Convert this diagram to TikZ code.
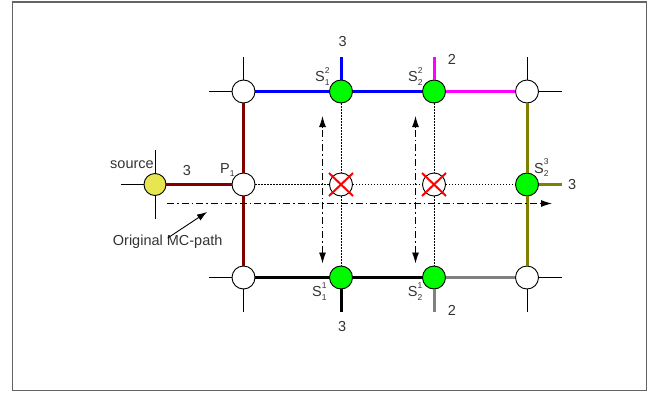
\documentclass[tikz,border=0pt]{standalone}
\usepackage{fontspec}
\setmainfont{Liberation Sans}
\usetikzlibrary{arrows.meta,positioning}

\definecolor{txtgray}{RGB}{51,51,51}
\definecolor{framegray}{RGB}{100,100,100}
\definecolor{srcyellow}{RGB}{230,230,80}
\definecolor{relaygreen}{RGB}{0,250,0}
\definecolor{pathmaroon}{RGB}{128,0,0}
\definecolor{patholive}{RGB}{128,128,0}
\definecolor{pathgray}{RGB}{128,128,128}
\definecolor{pathblue}{RGB}{0,0,255}
\definecolor{pathpink}{RGB}{255,0,255}
\definecolor{xred}{RGB}{255,0,0}

% S with stacked super- and subscript
\newcommand{\idx}[1]{{\fontsize{8.5}{9}\selectfont #1}}
\newcommand{\Snode}[2]{S\rlap{\raisebox{8.4pt}{\idx{#1}}}\raisebox{-3.3pt}{\idx{#2}}}

\begin{document}
\begin{tikzpicture}[x=1pt, y=-1pt,
  font=\fontsize{14.5}{16}\selectfont,
  router/.style={circle, draw, line width=0.9pt, fill=white,
                 minimum size=23pt, inner sep=0},
  relay/.style={router, fill=relaygreen},
  srcnode/.style={router, fill=srcyellow, minimum size=22pt},
  lbl/.style={anchor=base west, inner sep=0, text=txtgray},
  link/.style={line width=3pt},
  stub/.style={line width=0.9pt},
  probe/.style={line width=0.9pt, dash pattern=on 1.5pt off 1.5pt},
  mcpath/.style={line width=0.9pt, dash pattern=on 7pt off 3pt on 1.5pt off 3pt,
                 -{Latex[length=11pt,width=7pt]}},
  xmark/.style={xred, line width=2pt},
  ptr/.style={-{Latex[length=10pt,width=7pt]}, line width=0.9pt}
]
\useasboundingbox (0,0) rectangle (653,394);
\draw[framegray, line width=1.2pt] (12.5,2) rectangle (646.5,390.5);

% --- Nodes ---
\node[router] (tl) at (243.5,91.5) {};
\node[relay]  (t1) at (341,91.5)   {};
\node[relay]  (t2) at (434,91.5)   {};
\node[router] (tr) at (527,91.5)   {};

\node[srcnode] (src) at (155,184.5) {};
\node[router]  (p1)  at (243.5,184.5) {};
\node[router]  (x1)  at (341,184.5) {};
\node[router]  (x2)  at (434,184.5) {};
\node[relay]   (mr)  at (527,184.5) {};

\node[router] (bl) at (243.5,277.5) {};
\node[relay]  (b1) at (341,277.5)   {};
\node[relay]  (b2) at (434,277.5)   {};
\node[router] (br) at (527,277.5)   {};

% --- Free ends of stubs and arrows ---
\coordinate (tlw) at (209,91.5);   \coordinate (tln) at (243.5,56.5);
\coordinate (trn) at (527,56.5);   \coordinate (tre) at (562,91.5);
\coordinate (srcw) at (120.5,184.5);
\coordinate (srcn) at (155,150);   \coordinate (srcs) at (155,219);
\coordinate (blw) at (209,277.5);  \coordinate (bls) at (243.5,312);
\coordinate (bre) at (562,277.5);  \coordinate (brs) at (527,312);
\coordinate (t1n) at (341,56.5);   \coordinate (t2n) at (434,56.5);
\coordinate (mre) at (562,184.5);
\coordinate (b1s) at (341,312);    \coordinate (b2s) at (434,312);
\coordinate (mcs) at (167,203.5);  \coordinate (mce) at (552,203.5);
\coordinate (up1) at (322.5,116);  \coordinate (dn1) at (322.5,263.5);
\coordinate (up2) at (415.5,116);  \coordinate (dn2) at (415.5,263.5);
\coordinate (mctip) at (207,212);

% --- Thin stubs ---
\draw[stub] (tl) -- (tlw) (tl) -- (tln);
\draw[stub] (tr) -- (trn) (tr) -- (tre);
\draw[stub] (src) -- (srcw) (src) -- (srcn) (src) -- (srcs);
\draw[stub] (bl) -- (blw) (bl) -- (bls);
\draw[stub] (br) -- (bre) (br) -- (brs);

% --- Coloured links ---
\draw[link, pathmaroon] (src) -- (p1);
\draw[link, pathmaroon] (tl) -- (p1) -- (bl);
\draw[link, pathblue] (tl) -- (t1) -- (t2);
\draw[link, pathblue] (t1) -- (t1n);
\draw[link, pathpink] (t2) -- (tr);
\draw[link, pathpink] (t2) -- (t2n);
\draw[link, patholive] (tr) -- (mr) -- (br);
\draw[link, patholive] (mr) -- (mre);
\draw[link, black] (bl) -- (b1) -- (b2);
\draw[link, black] (b1) -- (b1s);
\draw[link, pathgray] (b2) -- (br);
\draw[link, pathgray] (b2) -- (b2s);

% --- Dotted probes ---
\draw[probe] (p1) -- (x1) -- (x2) -- (mr);
\draw[probe] (t1) -- (x1) -- (b1);
\draw[probe] (t2) -- (x2) -- (b2);

% --- Blocked nodes ---
\draw[xmark] (x1.center) ++(-12,-11.5) -- ++(24,23)
             (x1.center) ++(12,-11.5) -- ++(-24,23);
\draw[xmark] (x2.center) ++(-12,-11.5) -- ++(24,23)
             (x2.center) ++(12,-11.5) -- ++(-24,23);

% --- MC paths ---
\draw[mcpath] (mcs) -- (mce);
\draw[mcpath, {Latex[length=11pt,width=7pt]}-{Latex[length=11pt,width=7pt]}] (dn1) -- (up1);
\draw[mcpath, {Latex[length=11pt,width=7pt]}-{Latex[length=11pt,width=7pt]}] (dn2) -- (up2);

% --- Labels ---
\node[lbl] (lsrc)  at (110,168.3)   {source};
\node[lbl] (lw1)   at (182.7,175)   {3};
\node[lbl] (lp1)   at (220,173.3)   {P\raisebox{-3.3pt}{\idx{1}}};
\node[lbl] (ls12)  at (315,81.7)    {\Snode{2}{1}};
\node[lbl] (ls22)  at (408,81.7)    {\Snode{2}{2}};
\node[lbl] (ls23)  at (534,173)     {\Snode{3}{2}};
\node[lbl] (ls11)  at (312,296.7)   {\Snode{1}{1}};
\node[lbl] (ls21)  at (407.7,296.7) {\Snode{1}{2}};
\node[lbl] (lw12)  at (338.3,46.5)  {3};
\node[lbl] (lw22)  at (447.7,64)    {2};
\node[lbl] (lw23)  at (568,189.3)   {3};
\node[lbl] (lw11)  at (338,331)     {3};
\node[lbl] (lw21)  at (447.7,315)   {2};
\node[lbl] (mclbl) at (112.7,245.7) {Original MC-path};
\draw[ptr] ([yshift=-3pt]mclbl.north) -- (mctip);

\end{tikzpicture}
\end{document}
